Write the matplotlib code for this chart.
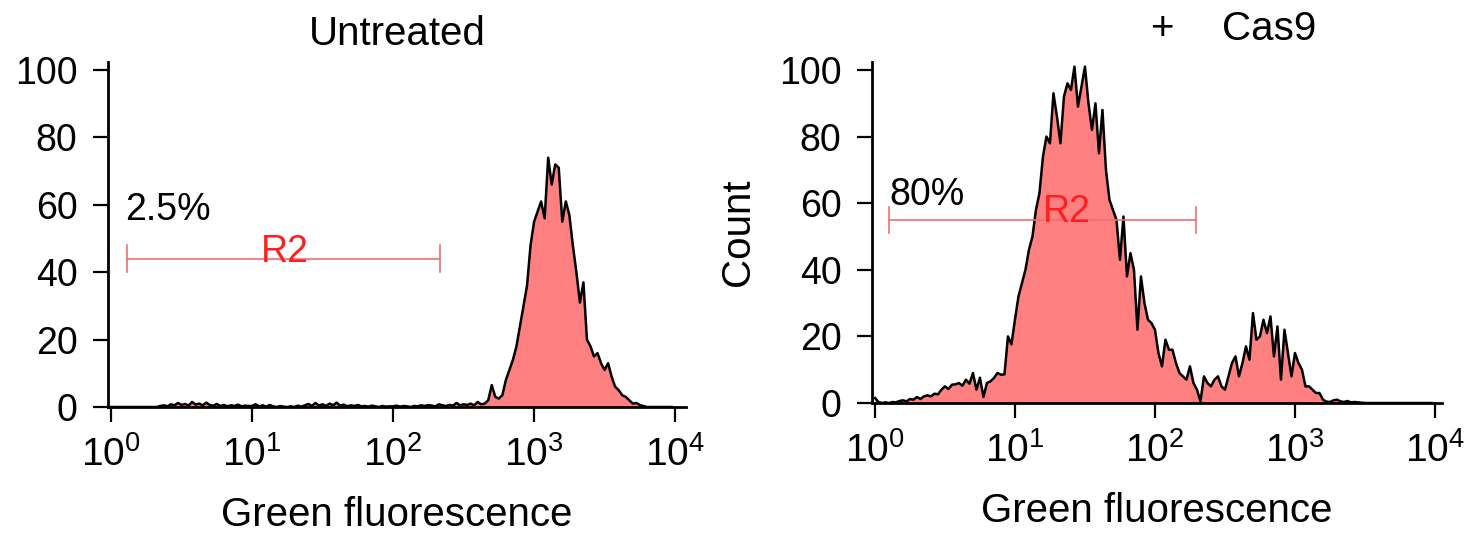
import numpy as np
import matplotlib
matplotlib.use("Agg")
import matplotlib.pyplot as plt

plt.rcParams['font.family'] = ['Liberation Sans', 'DejaVu Sans']
plt.rcParams['mathtext.fontset'] = 'custom'
plt.rcParams['mathtext.rm'] = 'Liberation Sans'
plt.rcParams['mathtext.it'] = 'Liberation Sans'

# channel grid: 40 channels per decade, 10^0 .. 10^4
LOG_STEP = 0.025

# counts per channel, untreated cells
untreated = [
    0, 0, 0, 0, 0, 0, 0, 0, 0, 0, 0, 0, 0, 0, 0.3, 0.5, 0.2, 0.8, 0.5, 1.2,
    0.6, 0.9, 0.4, 1.5, 0.7, 1.0, 0.5, 1.3, 0.6, 0.4, 0.9, 0.3, 0.6, 0.2, 0.5, 0.3, 0.7, 0.2, 0.4, 0.3,
    0.3, 0.8, 0.2, 0.5, 0.1, 0.6, 0.2, 0, 0.3, 0.1, 0, 0.2, 0, 0.4, 0.1, 0.5, 0.9, 0.3, 1.2, 0.4,
    0.8, 0.3, 1.0, 0.5, 1.3, 0.4, 0.7, 0.2, 0.5, 0.3, 0.6, 0.2, 0.3, 0.1, 0.4, 0.2, 0, 0.3, 0.1, 0.2,
    0.2, 0.4, 0.1, 0.3, 0.2, 0, 0.3, 0.2, 0.5, 0.3, 0.6, 0.4, 0.2, 0.8, 0.5, 0.3, 0.6, 0.4, 1.2, 0.5,
    0.8, 0.6, 1.0, 0.5, 1.5, 0.8, 1.0, 2.0, 6.5, 3.0, 2.5, 3.5, 8, 11, 14, 18, 24, 30, 36, 48,
    55, 58, 61, 56, 74, 66, 72, 71, 55, 61, 57, 48, 40, 31, 37, 20, 18, 15, 16, 13,
    11, 13, 9, 6, 5, 3.5, 3, 2, 1, 1.2, 0.6, 0.3, 0, 0, 0, 0, 0, 0, 0, 0,
]

# counts per channel, cells with Cas9
cas9 = [
    1.5, 0.3, 0, 0.2, 0, 0.3, 0.2, 0.6, 0.8, 0.5, 1.2, 1.0, 1.8, 1.2, 2.0, 2.3, 2.0, 2.8, 2.6, 4.0,
    5.0, 4.2, 5.5, 5.6, 6.0, 5.2, 7.0, 5.8, 9.0, 4.0, 7.6, 1.8, 6.0, 6.5, 7.5, 9.0, 8.5, 8.6, 20, 17.6,
    25, 32, 36, 40, 46, 50, 58, 63, 74, 80, 78, 93, 86, 78, 92, 96, 94, 101, 89, 95,
    101, 90, 82, 90, 75, 88, 70, 61, 58, 55, 43, 56, 38, 45, 40, 22, 38, 30, 25, 24,
    22, 15, 11, 19, 16, 16, 12, 9, 8, 7, 11, 6, 4, 0.5, 8, 6, 5, 7, 8, 5,
    4, 8, 12, 14, 8, 12, 17, 13, 27, 19, 20, 25, 21, 26, 14, 23, 7, 22, 15, 8,
    15, 12, 10, 5, 5, 4, 3, 3, 1, 0.4, 0.3, 0.8, 1, 0.5, 0.3, 0.6, 0.2, 0.3, 0.2, 0.1,
    0, 0, 0, 0, 0, 0, 0, 0, 0, 0, 0, 0, 0, 0, 0, 0, 0, 0, 0, 0,
]

panel_titles = ["Untreated", ""]
gate_percent = ["2.5%", "80%"]
gate_range = [(1.3, 215), (1.26, 196)]
gate_level = [44, 55]
percent_pos = [(1.26, 58.5), (1.26, 62.5)]
r2_pos = [(17.1, 46), (23.5, 57.4)]

decade_ticks = [1, 10, 100, 1000, 10000]
decade_labels = ["$10^0$", "$10^1$", "$10^2$", "$10^3$", "$10^4$"]
count_ticks = [0, 20, 40, 60, 80, 100]

FILL = "#ff8080"
GATE = "#f07070"
RED = "#ff1f1f"
FS = 29      # axis labels and titles
TICK_FS = 27


def draw_panel(ax, counts, k):
    counts = np.asarray(counts, dtype=float)
    x = 10 ** (np.arange(len(counts)) * LOG_STEP)
    ax.fill_between(x, counts, 0, color=FILL, linewidth=0)
    ax.plot(x, counts, color="black", linewidth=1.8)

    ax.set_xscale("log")
    ax.set_xlim(10 ** -0.021, 10 ** [4.078, 4.05][k])
    ax.set_ylim(0, 102.4)
    ax.set_xticks(decade_ticks)
    ax.set_xticklabels(decade_labels)
    ax.minorticks_off()
    ax.set_yticks(count_ticks)
    ax.tick_params(width=1.6, length=11)
    ax.tick_params(axis="x", pad=10, labelsize=TICK_FS + 1)
    ax.tick_params(axis="y", pad=11, labelsize=TICK_FS)
    for side in ("top", "right"):
        ax.spines[side].set_visible(False)
    for side in ("left", "bottom"):
        ax.spines[side].set_linewidth(2)

    # R2 gate bar with end caps
    lo, hi = gate_range[k]
    y = gate_level[k]
    ax.plot([lo, hi], [y, y], color=GATE, linewidth=1.2)
    ax.plot([lo, lo], [y - 4, y + 4], color=GATE, linewidth=1.2)
    ax.plot([hi, hi], [y - 4, y + 4], color=GATE, linewidth=1.2)
    ax.text(*r2_pos[k], "R2", color=RED, fontsize=TICK_FS, ha="center", va="center")
    ax.text(*percent_pos[k], gate_percent[k], fontsize=TICK_FS, ha="left", va="center")

    ax.set_xlabel("Green fluorescence", fontsize=FS, labelpad=16)
    if panel_titles[k]:
        ax.set_title(panel_titles[k], fontsize=FS, pad=12)


fig = plt.figure(figsize=(14.72, 5.33), dpi=100)
ax1 = fig.add_axes([0.0734, 0.2364, 0.3927, 0.6473])
ax2 = fig.add_axes([0.5924, 0.2439, 0.3872, 0.6398])
draw_panel(ax1, untreated, 0)
draw_panel(ax2, cas9, 1)
ax2.set_ylabel("Count", fontsize=FS, labelpad=16)

fig.text(0.790, 0.945, "+", fontsize=FS, ha="center", va="center")
fig.text(0.8304, 0.945, "Cas9", fontsize=FS, ha="left", va="center")

fig.savefig("out.png", dpi=100)
